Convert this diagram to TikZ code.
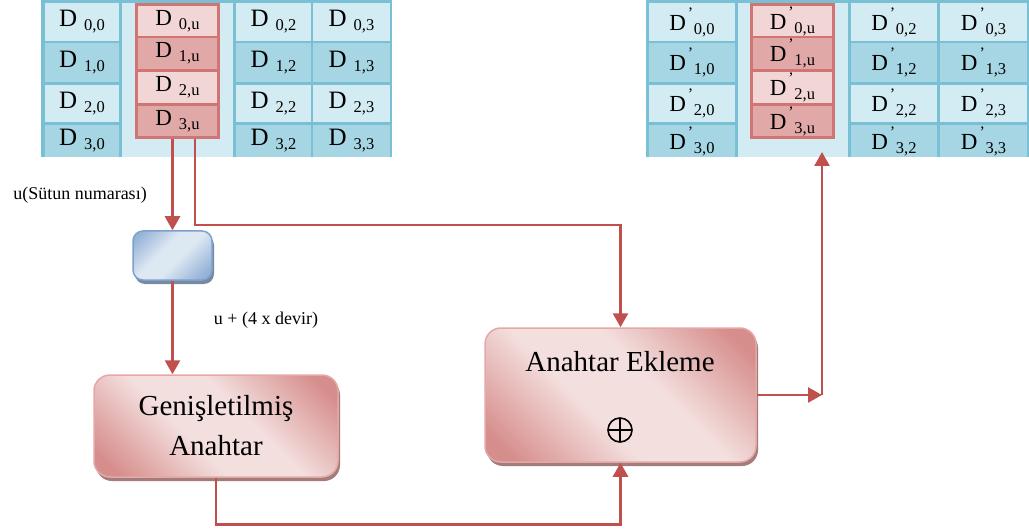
\documentclass[tikz,border=0pt]{standalone}
\usepackage{fontspec}
\setmainfont{Liberation Serif}
\usetikzlibrary{arrows.meta,shadows}

\definecolor{cellA}{RGB}{211,235,242}
\definecolor{cellB}{RGB}{166,213,227}
\definecolor{gridline}{RGB}{122,192,212}
\definecolor{redA}{RGB}{242,213,213}
\definecolor{redB}{RGB}{225,168,168}
\definecolor{redline}{RGB}{208,116,116}
\definecolor{flow}{RGB}{192,80,77}
\definecolor{pinkDark}{RGB}{214,142,140}
\definecolor{pinkLight}{RGB}{243,223,222}
\definecolor{pinkEdge}{RGB}{228,168,166}
\definecolor{blueDark}{RGB}{149,179,215}
\definecolor{blueLight}{RGB}{222,232,243}
\definecolor{blueEdge}{RGB}{125,160,205}

% soft diagonal glow used by the rounded blocks
\pgfdeclareverticalshading{pinkglow}{100bp}{color(0bp)=(pinkDark); color(20bp)=(pinkDark); color(42bp)=(pinkLight); color(58bp)=(pinkLight); color(80bp)=(pinkDark); color(100bp)=(pinkDark)}
\pgfdeclareverticalshading{blueglow}{100bp}{color(0bp)=(blueDark); color(22bp)=(blueDark); color(45bp)=(blueLight); color(58bp)=(blueLight); color(80bp)=(blueDark); color(100bp)=(blueDark)}

% matrix entry D with a lowered index
\newcommand\Dn[2][25]{\fontsize{#1}{#1}\selectfont D\hspace{7pt}\raisebox{-4pt}{\fontsize{16.5}{16.5}\selectfont #2}}
% primed matrix entry
\newcommand\Dp[2][23]{\fontsize{#1}{#1}\selectfont D\rlap{\hspace{2pt}\raisebox{12pt}{\fontsize{16}{16}\selectfont ’}}\hspace{8pt}\raisebox{-4pt}{\fontsize{16.5}{16.5}\selectfont #2}}

% node spanning the corners (x1,y1)-(x2,y2)
\newcommand\boxat[7]{\node[#6, minimum width={(#4-#2)*1pt}, minimum height={(#5-#3)*1pt}] (#1) at ({(#2+#4)/2},{(#3+#5)/2}) {#7};}

\tikzset{
  cell/.style={rectangle, inner sep=0pt, outer sep=0pt, draw=none},
  pinkbox/.style={rectangle, rounded corners=16pt, draw=pinkEdge, line width=1.5pt,
    shade, shading=pinkglow, shading angle=-45,
    drop shadow={shadow xshift=2pt, shadow yshift=-4pt, fill=black!35!pinkDark, opacity=0.8}},
  bluebox/.style={rectangle, rounded corners=10pt, draw=blueEdge, line width=1.5pt,
    shade, shading=blueglow, shading angle=45,
    drop shadow={shadow xshift=2pt, shadow yshift=-4pt, fill=black!30!blueDark, opacity=0.9}},
  flowline/.style={draw=flow, line width=2.6pt},
  arrow/.style={flowline, -{Triangle[width=15pt,length=14pt]}},
  label/.style={font=\fontsize{18}{18}\selectfont, inner sep=0pt},
}

\begin{document}
\begin{tikzpicture}[x=1pt, y=-1pt]
\useasboundingbox (0,0) rectangle (1029,532);

% ---------- input state matrix ----------
\boxat{tabL}{41}{0}{392}{157}{cell,fill=gridline}{}
\foreach \r/\ya/\yb/\f in {0/3/41/cellA,1/43/82/cellB,2/85/122/cellA,3/125/157/cellB}{
  \foreach \c/\xa/\xb in {0/45/119,2/236/311,3/313/390}{
    \boxat{L\r\c}{\xa}{\ya}{\xb}{\yb}{cell,fill=\f}{\Dn{\r,\c}}
  }
}
\boxat{Lmid}{122}{3}{233}{157}{cell,fill=cellA}{}
\boxat{redL}{135}{3}{220}{139}{cell,fill=redline}{}
\foreach \r/\ya/\yb/\f in {0/6/36/redA,1/38/69/redB,2/72/103/redA,3/106/136/redB}{
  \boxat{Lu\r}{138}{\ya}{217}{\yb}{cell,fill=\f}{\Dn[23]{\r,u}}
}

% ---------- output state matrix ----------
\boxat{tabR}{646}{0}{1029}{157}{cell,fill=gridline}{}
\foreach \r/\ya/\yb/\f in {0/3/41/cellA,1/43/82/cellB,2/85/122/cellA,3/125/157/cellB}{
  \foreach \c/\xa/\xb in {0/649/735,2/851/937,3/940/1027}{
    \boxat{R\r\c}{\xa}{\ya}{\xb}{\yb}{cell,fill=\f}{\Dp{\r,\c}}
  }
}
\boxat{Rmid}{738}{3}{848}{157}{cell,fill=cellA}{}
\boxat{redR}{750}{3}{835}{139}{cell,fill=redline}{}
\foreach \r/\ya/\yb/\f in {0/6/36/redA,1/38/69/redB,2/72/103/redA,3/106/136/redB}{
  \boxat{Ru\r}{753}{\ya}{832}{\yb}{cell,fill=\f}{\Dp{\r,u}}
}

% ---------- processing blocks ----------
\boxat{knob}{133}{231}{212}{280}{bluebox}{}
\boxat{gen}{94}{375}{338}{477}{pinkbox, align=center, font=\fontsize{29}{40}\selectfont}{Genişletilmiş\\Anahtar}
\boxat{ekle}{485}{328}{756}{462}{pinkbox}{}
\node[font=\fontsize{29}{29}\selectfont, inner sep=0pt] (ekleT) at (620,362) {Anahtar Ekleme};
\node[circle, draw=black, line width=1.6pt, minimum size=24pt, inner sep=0pt,
  path picture={\draw[line width=1.6pt] (path picture bounding box.north) -- (path picture bounding box.south)
    (path picture bounding box.west) -- (path picture bounding box.east);}] (xor) at (620,430) {};

% ---------- labels ----------
\node[label] (lblCol) at (80,195) {u(Sütun numarası)};
\node[label] (lblRound) at (266,320) {u + (4 x devir)};

% ---------- connectors ----------
\coordinate (bend) at (822,395);
\draw[arrow] (knob.north |- redL.south) -- (knob.north);
\draw[arrow] ([xshift=17.5pt]redL.south) -- ++(0,86) -| (ekle.north);
\draw[arrow] (knob.south) -- (knob.south |- gen.north);
\draw[arrow] (gen.south) -- ++(0,47) -| (ekle.south);
\draw[arrow] (ekle.east) -- (bend);
\draw[arrow, shorten >=-5pt] (bend) -- (bend |- tabR.south);
\end{tikzpicture}
\end{document}
